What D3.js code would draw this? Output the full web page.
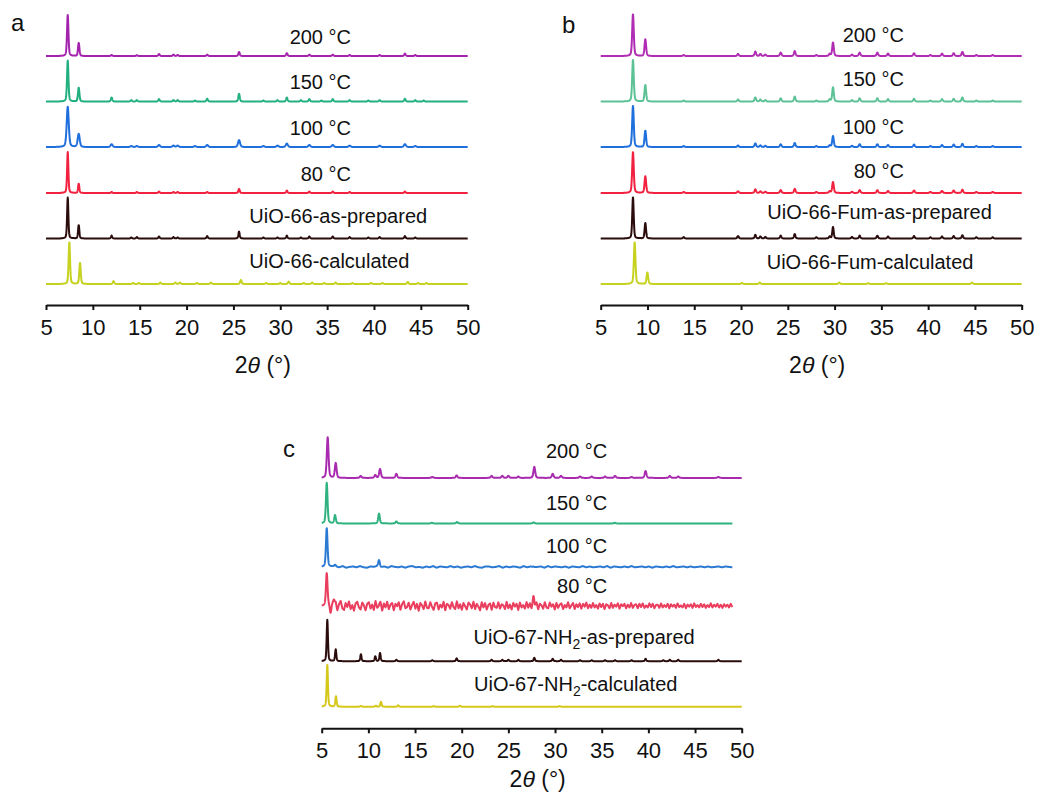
<!DOCTYPE html>
<html>
<head>
<meta charset="utf-8">
<script src="https://cdnjs.cloudflare.com/ajax/libs/d3/7.8.5/d3.min.js"></script>
<style>
  body { margin: 0; background: #fff; }
  text { font-family: Arial, "Liberation Sans", sans-serif; fill: #111; }
</style>
</head>
<body>
<svg width="1040" height="796"></svg>
<script>
// tick labels shared by all three panels
var tickVals = [5, 10, 15, 20, 25, 30, 35, 40, 45, 50];

// ---- panel a : UiO-66 (peaks as [2theta, relative intensity]) ----
var labelsA = ["200 °C", "150 °C", "100 °C", "80 °C", "UiO-66-as-prepared", "UiO-66-calculated"];
var colorsA = ["#a423ad", "#22b07f", "#1f6fdc", "#f2213f", "#2b0c0c", "#c6d21f"];
var offsetsA = [556, 445, 334, 222, 111, 0];
var a200 = [[7.32,100],[8.49,32],[12.0,2.5],[14.7,2],[17.06,5],[18.6,3.5],[19.05,2.5],[22.2,3.5],[25.6,10],[30.7,7],[33.1,3.5],[35.6,3.5],[37.4,2.5],[40.6,2.5],[43.3,6],[44.4,2.5]];
var a150 = [[7.32,100],[8.49,34],[12.0,10],[14.1,3.5],[14.7,3.5],[17.06,6],[18.6,3.5],[19.05,3.5],[20.9,2.5],[22.2,7],[25.6,19],[28.2,2.5],[29.7,3.5],[30.7,10],[32.2,3.5],[33.1,6],[34.4,2.5],[35.6,6],[37.4,3.5],[39.4,2.5],[40.6,3.5],[43.3,7],[44.4,3.5],[45.3,2.5]];
var a100 = [[7.32,98],[8.49,32],[12.0,7],[14.1,2.5],[14.7,2.5],[17.06,5],[18.6,3.5],[19.05,3.5],[20.9,2.5],[22.2,5],[25.6,17],[28.2,2.5],[29.7,3.5],[30.7,8.5],[33.1,5],[35.6,5],[37.4,3.5],[40.6,3.5],[43.3,7],[44.4,2.5]];
var a80 = [[7.32,100],[8.49,23],[12.0,2.5],[14.7,2.5],[17.06,3.5],[18.6,2.5],[19.05,2.5],[22.2,2.5],[25.6,10],[30.7,6],[33.1,3.5],[35.6,3.5],[37.4,2.5],[43.3,3.5]];
var aPrep = [[7.32,100],[8.49,33],[12.0,7],[14.1,2.5],[14.7,3.5],[17.06,5],[18.6,3.5],[19.05,2.5],[22.2,6],[25.6,17],[28.2,2.5],[29.7,2.5],[30.7,7],[32.2,2.5],[33.1,5],[35.6,5],[37.4,3.5],[39.4,2.5],[40.6,3.5],[43.3,6],[44.4,2.5]];
var aCalc = [[7.49,102],[8.63,52],[12.2,7],[14.3,2.5],[14.9,2.5],[17.2,3.5],[18.8,3.5],[19.3,3.5],[21.1,2.5],[22.6,3.5],[25.8,10],[28.5,2.5],[30.0,2.5],[30.9,6],[32.5,2.5],[33.4,3.5],[34.7,2.5],[35.9,3.5],[37.7,2.5],[39.7,2.5],[40.9,2.5],[43.6,5],[44.7,2.5],[45.6,2.5]];

// ---- panel b : UiO-66-Fum ----
var labelsB = ["200 °C", "150 °C", "100 °C", "80 °C", "UiO-66-Fum-as-prepared", "UiO-66-Fum-calculated"];
var colorsB = ["#b02cb2", "#5cc296", "#1f6fdc", "#f2213f", "#2b0c0c", "#c6d21f"];
var offsetsB = [556, 445, 334, 222, 111, 0];
var b200 = [[8.45,102],[9.77,41],[13.87,2.5],[19.68,5],[21.53,11],[22.07,5],[22.6,3.5],[24.24,8.5],[25.74,12],[28.05,2.5],[29.48,5],[29.83,33],[31.86,3.5],[32.68,8.5],[34.57,8.5],[35.71,6],[38.49,7],[40.24,2.5],[41.48,6],[42.73,7],[43.66,10],[45.15,2.5],[46.9,2.5]];
var b150 = [[8.45,102],[9.77,41],[13.87,2.5],[19.68,5],[21.53,10],[22.07,5],[22.6,3.5],[24.24,8],[25.74,12],[28.05,2.5],[29.48,5],[29.83,35],[31.86,3.5],[32.68,8],[34.57,8],[35.71,6],[38.49,7],[40.24,2.5],[41.48,6],[42.73,7],[43.66,10],[45.15,2.5],[46.9,2.5]];
var b100 = [[8.45,101],[9.77,40],[13.87,2.5],[19.68,4],[21.53,9],[22.07,4],[22.6,3],[24.24,7],[25.74,10],[28.05,2.5],[29.48,4],[29.83,27],[31.86,3],[32.68,7],[34.57,7],[35.71,5],[38.49,6],[40.24,2.5],[41.48,5],[42.73,6],[43.66,8],[45.15,2.5],[46.9,2.5]];
var b80 = [[8.45,100],[9.77,41],[13.87,2.5],[19.68,4],[21.53,9],[22.07,4],[22.6,3],[24.24,7],[25.74,10],[28.05,2.5],[29.48,4],[29.83,27],[31.86,3],[32.68,7],[34.57,7],[35.71,5],[38.49,6],[40.24,2.5],[41.48,5],[42.73,6],[43.66,8],[45.15,2.5],[46.9,2.5]];
var bPrep = [[8.45,101],[9.77,38],[13.87,3.5],[19.68,6],[21.53,9],[22.07,5],[22.6,4],[24.24,7],[25.74,11],[28.05,3],[29.48,5],[29.83,28],[31.86,4],[32.68,7],[34.57,7],[35.71,5],[38.49,6],[40.24,3],[41.48,5],[42.73,6],[43.66,8],[45.15,3],[46.9,3]];
var bCalc = [[8.63,102],[9.99,28],[20.1,2.5],[22.0,3.5],[30.5,3.5],[33.6,2],[35.5,2],[44.7,3.5]];

// ---- panel c : UiO-67-NH2 ----
var labelsC = ["200 °C", "150 °C", "100 °C", "80 °C", "UiO-67-NH|2|-as-prepared", "UiO-67-NH|2|-calculated"];
var colorsC = ["#a82aae", "#2fb27f", "#2a79d2", "#ea3e5e", "#2b0c0c", "#d6c71b"];
var offsetsC = [558, 447, 341, 246, 111, 0];
var endsC = [50, 49, 49, 49, 50, 50];
var c200 = [[5.64,99],[6.5,36],[9.18,5],[10.74,7],[11.25,22],[13.0,10],[16.85,2.5],[19.46,6],[23.2,5],[24.35,5],[25.0,5],[26.07,3.5],[27.78,27],[29.75,10],[30.64,5],[32.68,3.5],[33.93,3.5],[35.36,3.5],[36.43,5],[38.2,2.5],[39.7,17],[42.3,5],[43.2,3.5],[47.5,2.5]];
var c150 = [[5.54,99],[6.43,20],[11.14,24],[13.0,5],[16.8,1.5],[19.5,3.5],[27.7,2.5],[36.4,1.5]];
var c100 = [[5.54,94],[6.43,4],[11.14,16],[27.7,1.5]];
var c80 = [[5.54,78],[5.95,-24],[6.3,8],[11.2,4],[27.7,22]];
var cPrep = [[5.6,101],[6.5,29],[9.2,17],[10.74,12],[11.25,20],[13.0,3.5],[16.85,2.5],[19.46,7],[23.2,3.5],[24.35,3.5],[25.0,3.5],[26.07,3.5],[27.78,8.5],[29.75,6],[30.64,3.5],[32.68,2.5],[33.93,2.5],[35.36,2.5],[36.43,2.5],[38.2,2.5],[39.7,6],[41.6,2.5],[42.3,3.5],[43.2,3.5],[47.5,3.5]];
var cCalc = [[5.6,102],[6.53,26],[9.2,2],[10.8,2.5],[11.35,12],[13.2,3.5],[17,1.5],[19.8,2.5],[23.3,1.5],[30.5,1.5]];

// baseline noise (relative intensity, spread evenly from 6.5 to 49)
var c80Noise = [9,-11,4,12,-6,-10,7,-3,11,-8,2,-12,6,10,-4,-9,8,1,-11,5,9,-7,3,-10,12,-5,-2,8,-12,6,
  -4,10,-8,3,7,-11,5,-1,9,-10,4,11,-6,-3,8,-9,2,10,-7,5,-12,7,1,-8,11,-5,-6,9,-2,-10,
  6,8,-9,3,-4,10,-11,5,2,-7,9,-3,-8,11,-6,4,-10,7,-1,-9,8,3,-6,10,-8,5,-2,-11,9,-4,
  7,-9,2,6,-10,8,-3,-5,9,-7,4,1,-8,10,-6,3,-9,7,-2,5,-10,8,-4,2,-7,9,-5,6,-8,3,
  -3,8,-9,5,1,-7,9,-4,-6,8,-2,4,-9,7,-5,3,6,-8,2,-4,9,-6,1,7,-8,4,-3,6,-7,5,
  -2,8,-6,3,-5,7,-4,2,-7,6,-3,5,-8,4,1,-6,7,-5,3,-2,6,-7,4,-1,5,-6,3,-4,7,-5,
  2,4,-6,5,-3,6,-5,1,-4,6,-3,5,-6,2,3,-5,6,-4,2,-3,5,-6,4,-2,3,-5,6,-3,1,-4,
  5,-6,3,-2,4,-5,6,-3,2,-4,5,-3,4,-5,2,-3,6,-4,3,-2,5,-4,3,-5,4,-2,3,-4,5,-3];
var c100Noise = [1,-1,2,-2,0,1,-1,2,-1,-2,1,0,2,-1,1,-2,2,0,-1,1,-2,1,2,-1,0,-2,1,-1,2,-2,1,0,-1,2,-1,1,-2,0,1,-1,2,-1,-2,1,1,-1,0,2,-2,1,-1,1,0,-2,2,-1,1,-1,0,1,-2,2,-1,1,0,-1,1,-2,1,0,-1,2,-1,1,-1,0,1,-1,2,-2,1,0,-1,1,-1,2,-1,0,1,-1,1,-2,1,0,-1,1,-1,2,-1,0,1,-1,1,-1,0,1,-1,1,-1,0,1,-1,1,0,-1];

var svg = d3.select("svg");

// peak shape: pseudo-Voigt around each listed peak
function profile(peaks, v, hw) {
  var s = 0;
  peaks.forEach(function(pk) {
    var d = (v - pk[0]) / hw;
    if (Math.abs(d) > 10) return;
    s += pk[1] * (0.6 * Math.exp(-0.693 * d * d) + 0.4 / (1 + d * d));
  });
  return s;
}

function noiseAt(noise, v) {
  if (!noise) return 0;
  var lo = 6.5, hi = 49;
  if (v < 5.2 || v > hi) return 0;
  var t = (Math.max(v, lo) - lo) / (hi - lo) * (noise.length - 1);
  var i = Math.floor(t), f = t - i;
  var a = noise[i], b = noise[Math.min(i + 1, noise.length - 1)];
  var n = a + (b - a) * f;
  if (v < lo) n *= (v - 5.2) / (lo - 5.2);
  return n;
}

function drawPanel(p) {
  var x = d3.scaleLinear().domain([5, 50]).range([p.left, p.right]);
  var y = d3.scaleLinear().domain([0, 100]).range([p.base, p.base - 41]);
  var g = svg.append("g");

  var line = d3.line()
    .x(function(d) { return x(d[0]); })
    .y(function(d) { return y(d[1]); });

  p.series.forEach(function(s, i) {
    var end = p.ends ? p.ends[i] : 50;
    var noise = p.noise ? p.noise[i] : null;
    var step = noise ? 0.01 : 0.02;
    var pts = d3.range(5, end + 0.001, step).map(function(v) {
      return [v, p.offsets[i] + profile(s, v, p.hw[i]) + noiseAt(noise, v)];
    });
    g.append("path")
      .datum(pts)
      .attr("fill", "none")
      .attr("stroke", p.colors[i])
      .attr("stroke-width", 2)
      .attr("stroke-linejoin", "round")
      .attr("d", line);
  });

  // trace labels
  p.labels.forEach(function(lab, i) {
    var pos = p.labelPos[i];
    var t = g.append("text")
      .attr("x", pos[0])
      .attr("y", pos[1])
      .attr("text-anchor", pos[2])
      .style("font-size", "20px");
    var parts = lab.split("|");
    t.append("tspan").text(parts[0]);
    if (parts.length > 1) {
      t.append("tspan").attr("dy", 5).style("font-size", "14px").text(parts[1]);
      t.append("tspan").attr("dy", -5).text(parts[2]);
    }
  });

  var axis = g.append("g")
    .attr("transform", "translate(0," + p.axisY + ")")
    .call(d3.axisBottom(x).tickValues(tickVals).tickSize(5).tickSizeOuter(0).tickPadding(9));
  axis.select(".domain").attr("stroke", "#111").attr("stroke-width", 2);
  axis.selectAll(".tick line").attr("stroke", "#111").attr("stroke-width", 2);
  axis.selectAll(".tick text")
    .style("font-size", "22px")
    .style("font-family", "Arial, 'Liberation Sans', sans-serif")
    .attr("fill", "#111");

  var title = g.append("text")
    .attr("x", (p.left + p.right) / 2 + 6)
    .attr("y", p.axisY + p.titleDy)
    .attr("text-anchor", "middle")
    .style("font-size", "23px");
  title.append("tspan").text("2");
  title.append("tspan").style("font-style", "italic").text("θ");
  title.append("tspan").text(" (°)");

  g.append("text")
    .attr("x", p.letter[0])
    .attr("y", p.letter[1])
    .style("font-size", "24px")
    .text(p.name);
}

drawPanel({
  name: "a", letter: [11, 31],
  left: 46, right: 467.7, base: 284, axisY: 305, titleDy: 68,
  series: [a200, a150, a100, a80, aPrep, aCalc],
  hw: [0.09, 0.09, 0.13, 0.08, 0.08, 0.09],
  offsets: offsetsA, colors: colorsA, labels: labelsA,
  labelPos: [[351, 44.3, "end"], [351, 89.3, "end"], [351, 135, "end"], [351, 181, "end"], [249.3, 223.3, "start"], [249.3, 268.3, "start"]]
});

drawPanel({
  name: "b", letter: [562, 33],
  left: 600.7, right: 1021.7, base: 284, axisY: 305, titleDy: 68,
  series: [b200, b150, b100, b80, bPrep, bCalc],
  hw: [0.1, 0.1, 0.1, 0.1, 0.09, 0.1],
  offsets: offsetsB, colors: colorsB, labels: labelsB,
  labelPos: [[904, 41.7, "end"], [904, 86, "end"], [904, 134.3, "end"], [904, 178.3, "end"], [767.3, 219, "start"], [766.7, 269, "start"]]
});

drawPanel({
  name: "c", letter: [283, 457],
  left: 321.7, right: 741.7, base: 706.7, axisY: 728.3, titleDy: 58.4,
  series: [c200, c150, c100, c80, cPrep, cCalc],
  hw: [0.11, 0.1, 0.1, 0.1, 0.08, 0.08],
  ends: endsC,
  noise: [null, null, c100Noise, c80Noise, null, null],
  offsets: offsetsC, colors: colorsC, labels: labelsC,
  labelPos: [[607.3, 458.3, "end"], [607.3, 510, "end"], [607.3, 553.3, "end"], [607.3, 592.7, "end"], [473.5, 644.3, "start"], [474, 690.7, "start"]]
});
</script>
</body>
</html>
